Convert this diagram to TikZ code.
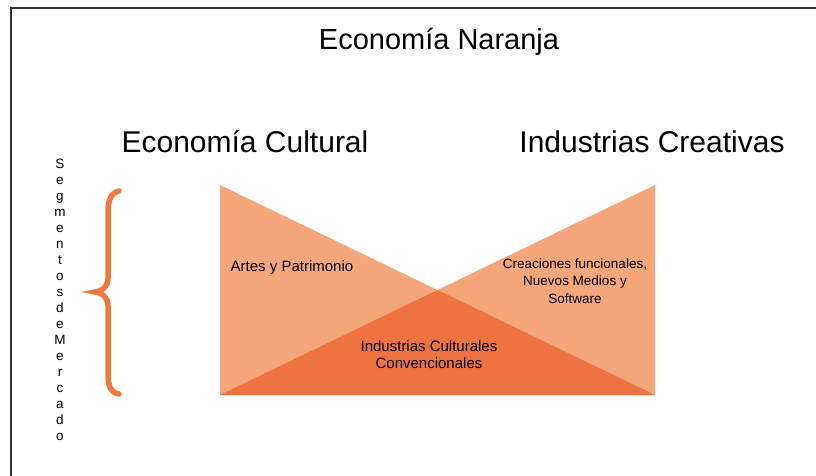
\documentclass[tikz,border=0pt]{standalone}
\usepackage{fontspec}
\setmainfont{Liberation Sans}
\usepackage{xcolor}
\usetikzlibrary{calc}

\definecolor{naranjaClaro}{HTML}{F5A77B}
\definecolor{naranjaOscuro}{HTML}{EE7340}
\definecolor{llave}{HTML}{EE7A3E}
\definecolor{marco}{HTML}{333333}

\begin{document}
\begin{tikzpicture}[x=1pt,y=-1pt,
  titulo/.style={inner sep=0pt,anchor=base,font=\fontsize{29}{34}\selectfont},
  sub/.style={inner sep=0pt,anchor=base,font=\fontsize{30}{36}\selectfont},
  lbl/.style={inner sep=0pt,align=center,font=\fontsize{13.5}{17.5}\selectfont}]
\useasboundingbox (0,0) rectangle (816,476);
% frame
\draw[marco,line width=2.2pt] (11,476) -- (11,8) -- (816,8);
% titles
\node[titulo] (tit) at (439,50)  {Economía Naranja};
\node[sub]    (ec)  at (245,153) {Economía Cultural};
\node[sub]    (ic)  at (652,153) {Industrias Creativas};
% triangles
\coordinate (tl) at (220,185);
\coordinate (tr) at (655,185);
\coordinate (bl) at (220,395);
\coordinate (br) at (655,395);
\coordinate (m) at ($(tl)!.5!(br)$);
\fill[naranjaClaro] (tl) -- (bl) -- (br) -- cycle;
\fill[naranjaClaro] (tr) -- (br) -- (bl) -- cycle;
\fill[naranjaOscuro] (bl) -- (m) -- (br) -- cycle;
\node[lbl,font=\fontsize{15}{17}\selectfont] (ap) at (292,268) {Artes y Patrimonio};
\node[lbl] (cf) at (575,281) {Creaciones funcionales,\\Nuevos Medios y\\Software};
\node[lbl,font=\fontsize{15}{17}\selectfont] (icc) at (429,355) {Industrias Culturales\\Convencionales};
% brace and side label
\draw[llave,line width=5.5pt,line cap=round]
  (119,191) .. controls (111,193) and (108,200) .. (108,212)
  -- (108,278) .. controls (108,287) and (101,292) .. (95,292)
  .. controls (101,292) and (108,297) .. (108,306)
  -- (108,374) .. controls (108,386) and (111,393) .. (119,394);
\node[inner sep=0pt,align=center,font=\fontsize{13.5}{16}\selectfont] (seg) at (60,300)
  {S\\e\\g\\m\\e\\n\\t\\o\\s\\d\\e\\M\\e\\r\\c\\a\\d\\o};
\end{tikzpicture}
\end{document}
